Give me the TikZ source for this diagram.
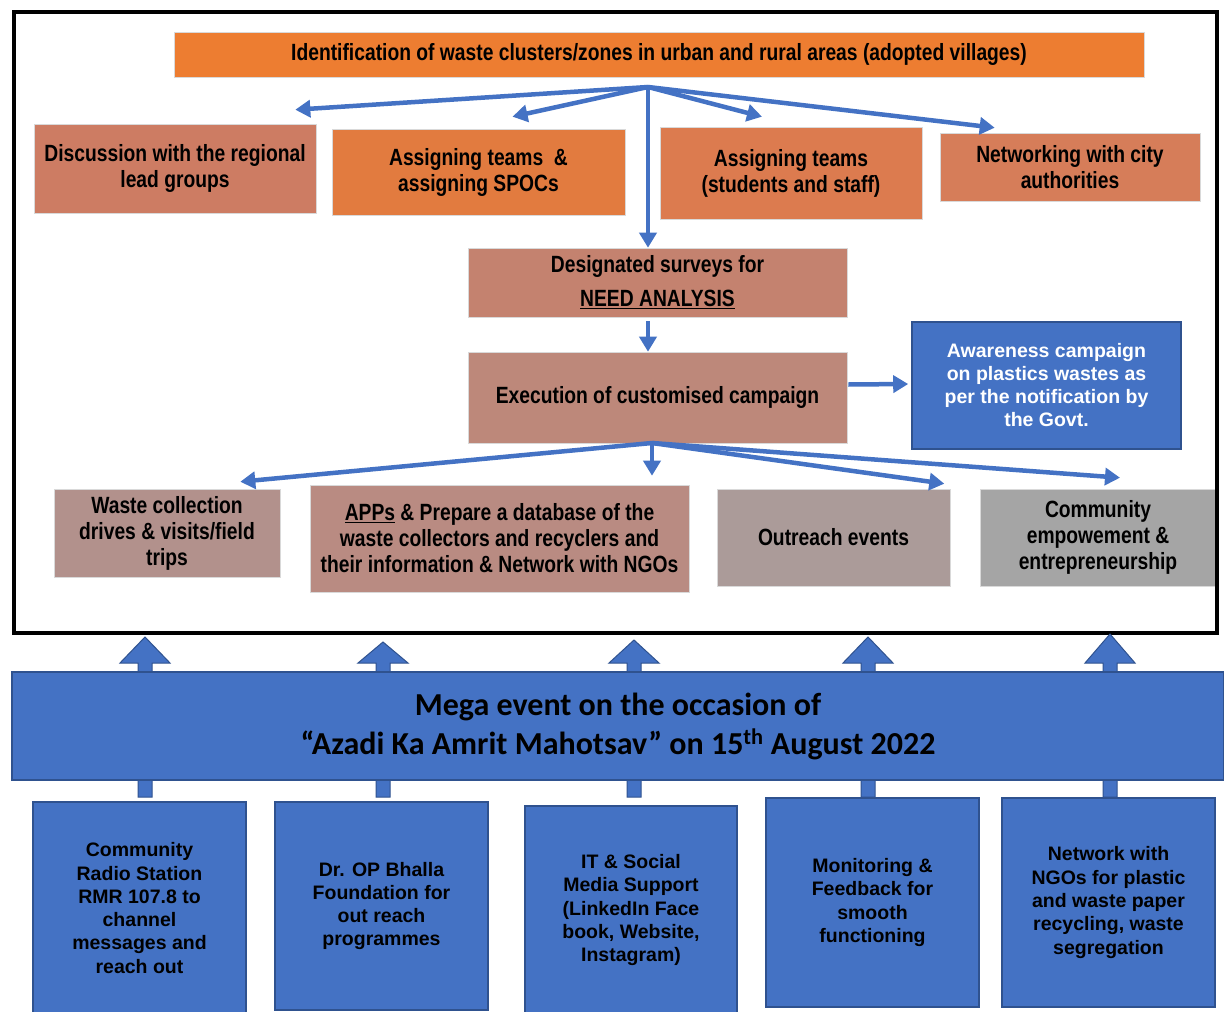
\documentclass[tikz,border=0pt]{standalone}
\usepackage{fontspec}
\setmainfont{Liberation Sans}
\newfontfamily\narrowf[FakeStretch=0.82]{Liberation Sans}
\newfontfamily\calib{Carlito}
\usetikzlibrary{arrows.meta,calc}
\definecolor{topC}{HTML}{ED7D31}
\definecolor{discC}{HTML}{CD7C63}
\definecolor{asgaC}{HTML}{E27B3F}
\definecolor{asgbC}{HTML}{DC7B4F}
\definecolor{netC}{HTML}{D67D59}
\definecolor{survC}{HTML}{C4826F}
\definecolor{execC}{HTML}{BD887A}
\definecolor{wasteC}{HTML}{B2918C}
\definecolor{appsC}{HTML}{B98B82}
\definecolor{outC}{HTML}{AB9B99}
\definecolor{commC}{HTML}{A5A5A5}
\definecolor{blC}{HTML}{4472C4}
\definecolor{bldC}{HTML}{2F528F}
\tikzset{
  box/.style={rectangle, inner sep=2pt, align=center, text=black, draw=white!85!black, line width=0.6pt},
  nar/.style={font=\narrowf\bfseries\fontsize{23.5}{26}\selectfont},
  arl/.style={font=\bfseries\fontsize{19.5}{23.3}\selectfont},
  bluebox/.style={box, fill=blC, draw=bldC, line width=1.6pt},
  thinarrow/.style={draw=blC, line width=4.5pt, -{Triangle[length=15pt,width=17pt]}},
  blockarrow/.style={fill=blC, draw=bldC, line width=1pt}
}
\begin{document}
\begin{tikzpicture}[x=1pt,y=-1pt]
\useasboundingbox (0,0) rectangle (1224,1012);
\fill[white] (0,0) rectangle (1224,1012);

% top row
\node[box, nar, fill=topC, minimum width=970pt, minimum height=45pt] (top) at (659,54.5)
  {Identification of waste clusters/zones in urban and rural areas (adopted villages)};
\node[box, nar, fill=discC, minimum width=282pt, minimum height=89pt] (disc) at (175,168.5)
  {Discussion with the regional\\lead groups};
\node[box, nar, fill=asgaC, minimum width=293pt, minimum height=86pt] (asga) at (478.5,172)
  {Assigning teams\ \ \&\\assigning SPOCs};
\node[box, nar, fill=asgbC, minimum width=262pt, minimum height=92pt] (asgb) at (791,173)
  {Assigning teams\\(students and staff)};
\node[box, nar, fill=netC, minimum width=260pt, minimum height=68pt] (net) at (1070,167)
  {Networking with city\\authorities};

% middle
\node[box, nar, fill=survC, minimum width=379pt, minimum height=69pt] (surv) at (657.5,282.5)
  {Designated surveys for\\[8pt]\underline{NEED ANALYSIS}};
\node[box, nar, fill=execC, minimum width=379pt, minimum height=91pt] (exec) at (657.5,397.5)
  {Execution of customised campaign};
\node[bluebox, text=white, minimum width=269pt, minimum height=127pt,
      font=\bfseries\fontsize{19.5}{23}\selectfont] (aware) at (1046.5,385.5)
  {Awareness campaign\\on plastics wastes as\\per the notification by\\the Govt.};

% bottom row inside frame
\node[box, nar, fill=wasteC, minimum width=226pt, minimum height=88pt] (waste) at (167,533)
  {Waste collection\\drives \& visits/field\\trips};
\node[box, nar, fill=appsC, minimum width=379pt, minimum height=107pt] (apps) at (499.5,538.5)
  {\underline{APPs} \& Prepare a database of the\\waste collectors and recyclers and\\their information \& Network with NGOs};
\node[box, nar, fill=outC, minimum width=233pt, minimum height=97pt] (outr) at (833.5,537.5)
  {Outreach events};
\node[box, nar, fill=commC, minimum width=236pt, minimum height=97pt] (comm) at (1098,537.5)
  {Community\\empowement \&\\entrepreneurship};

% thin arrows
\coordinate (hubA) at (648,87);
\coordinate (hubB) at (652,443);
\coordinate (survOut) at ($(hubA |- surv.south)+(0,4)$);
\coordinate (execIn) at (hubA |- exec.north);
\draw[thinarrow] (hubA) -- ($(disc.north east)+(-21,-14)$);
\draw[thinarrow] (hubA) -- ($(asga.north)+(34,-12)$);
\draw[thinarrow] (hubA) -- ($(asgb.north)+(-29,-10)$);
\draw[thinarrow] (hubA) -- ($(net.north west)+(55,-5)$);
\draw[thinarrow] (hubA) -- (hubA |- surv.north);
\draw[thinarrow] (survOut) -- (execIn);
\draw[thinarrow] ($(exec.east)+(1,-13)$) -- ($(aware.west)+(-3,-1.5)$);
\draw[thinarrow] (hubB) -- ($(waste.north east)+(-40,-7)$);
\draw[thinarrow] (hubB) -- ($(hubB |- apps.north)+(0,-9)$);
\draw[thinarrow] (hubB) -- ($(outr.north east)+(-6,-5)$);
\draw[thinarrow] (hubB) -- ($(comm.north)+(22,-11)$);

% frame
\draw[line width=4pt] (14,12) rectangle (1217,633);

% block arrows (behind mega box)
\foreach \x/\t in {145/637, 383/642, 634/640, 868/637, 1110/634}{
  \draw[blockarrow] (\x-7,797) -- (\x-7,663) -- (\x-25,663) -- (\x,\t) -- (\x+25,663) -- (\x+7,663) -- (\x+7,797) -- cycle;
}

% mega box
\node[bluebox, minimum width=1212pt, minimum height=108pt, font=\calib\bfseries\fontsize{32}{39}\selectfont] (mega) at (618,726)
  {Mega event on the occasion of\\“Azadi Ka Amrit Mahotsav” on 15\textsuperscript{th} August 2022};

% bottom supporting boxes
\node[bluebox, arl, minimum width=213pt, minimum height=212pt] (b1) at (139.5,908)
  {Community\\Radio Station\\RMR 107.8 to\\channel\\messages and\\reach out};
\node[bluebox, arl, minimum width=213pt, minimum height=208pt] (b2) at (381.5,906)
  {Dr. OP Bhalla\\Foundation for\\out reach\\programmes};
\node[bluebox, arl, minimum width=212pt, minimum height=208pt] (b3) at (631,910)
  {IT \& Social\\Media Support\\(LinkedIn Face\\book, Website,\\Instagram)};
\node[bluebox, arl, minimum width=213pt, minimum height=209pt] (b4) at (872.5,902.5)
  {Monitoring \&\\Feedback for\\smooth\\functioning};
\node[bluebox, arl, minimum width=213pt, minimum height=209pt] (b5) at (1108.5,902.5)
  {Network with\\NGOs for plastic\\and waste paper\\recycling, waste\\segregation};
\end{tikzpicture}
\end{document}
